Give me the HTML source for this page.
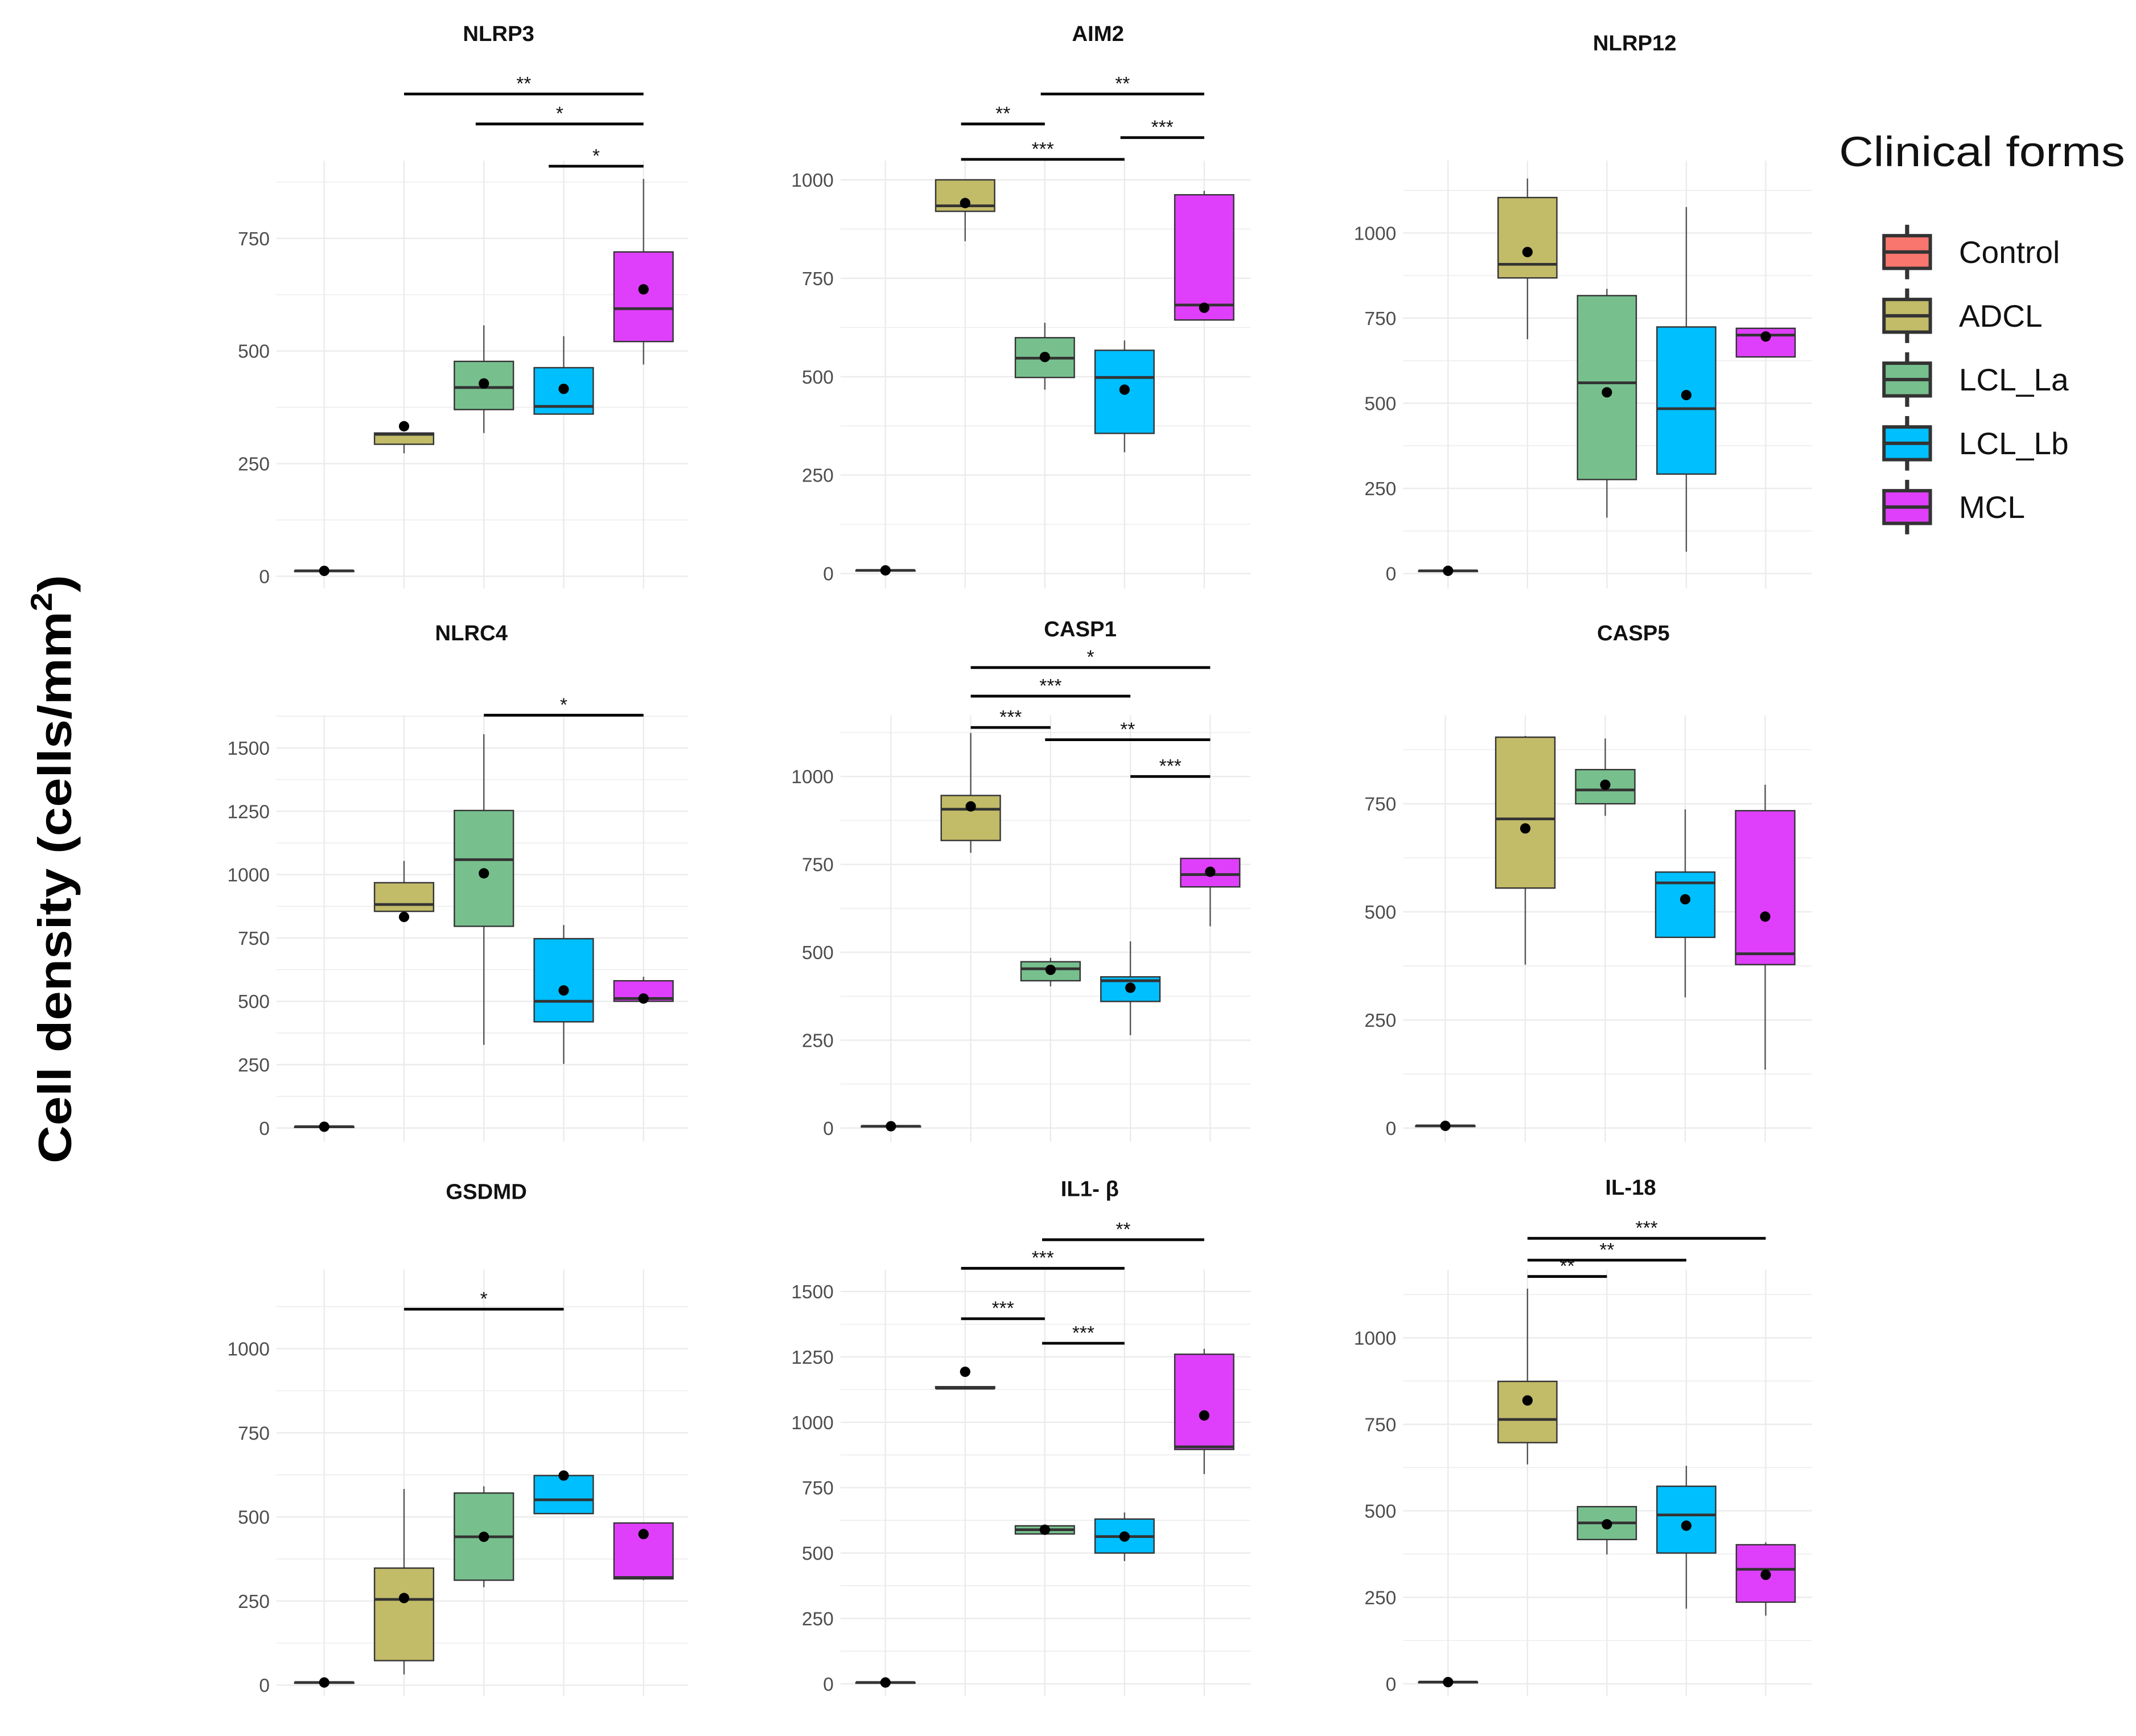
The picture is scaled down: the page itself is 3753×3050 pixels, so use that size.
<!DOCTYPE html>
<html><head><meta charset="utf-8"><style>
html,body{margin:0;padding:0;background:#fff;}
svg{display:block;font-family:"Liberation Sans",sans-serif;}
</style></head><body>
<svg id="chart" width="3753" height="3050" viewBox="0 0 1568 1274.3" xmlns="http://www.w3.org/2000/svg">
<rect x="0" y="0" width="1568" height="1274.3" fill="#fff"/>
<text transform="translate(52,638) rotate(-90)" text-anchor="middle" font-size="34" font-weight="bold" textLength="432" lengthAdjust="spacingAndGlyphs">Cell density (cells/mm<tspan font-size="22" dy="-14">2</tspan><tspan dy="14">)</tspan></text>
<g id="legend">
<text x="1350" y="122" font-size="31" fill="#111" textLength="210" lengthAdjust="spacingAndGlyphs">Clinical forms</text>
</g>
</svg>
<script>
const groups = ["Control","ADCL","LCL_La","LCL_Lb","MCL"];
const colors = ["#F8766D","#C2BB68","#77C08E","#00BFFF","#DF3FFB"];
const panelTitles = ["NLRP3","AIM2","NLRP12","NLRC4","CASP1","CASP5","GSDMD","IL1- β","IL-18"];
// per panel: lower whisker, q1, median, q3, upper whisker, mean (per group)
const nlrp3Lo=[12,273,318,360,470], nlrp3Q1=[12,293,370,360,521], nlrp3Med=[12,315,419,377,594], nlrp3Q3=[12,318,477,463,720], nlrp3Hi=[12,318,557,533,882], nlrp3Mean=[12,333,428,416,637];
const aim2Lo=[8,844,467,308,644], aim2Q1=[8,920,498,356,644], aim2Med=[8,934,547,498,682], aim2Q3=[8,1000,599,567,962], aim2Hi=[8,1000,637,592,972], aim2Mean=[8,941,550,467,675];
const nlrp12Lo=[8,688,164,64,636], nlrp12Q1=[8,868,276,292,636], nlrp12Med=[8,908,560,484,700], nlrp12Q3=[8,1104,816,724,720], nlrp12Hi=[8,1160,836,1076,720], nlrp12Mean=[8,944,532,524,696];
const nlrc4Lo=[5,855,328,253,500], nlrc4Q1=[5,855,796,419,500], nlrc4Med=[5,882,1059,500,511], nlrc4Q3=[5,968,1253,747,581], nlrc4Hi=[5,1054,1554,801,597], nlrc4Mean=[5,833,1005,543,511];
const casp1Lo=[5,783,403,264,574], casp1Q1=[5,818,419,360,686], casp1Med=[5,907,453,419,721], casp1Q3=[5,946,473,430,767], casp1Hi=[5,1124,484,531,767], casp1Mean=[5,915,450,399,729];
const casp5Lo=[5,378,722,302,135], casp5Q1=[5,555,750,441,378], casp5Med=[5,715,782,567,403], casp5Q3=[5,904,829,592,734], casp5Hi=[5,907,901,737,794], casp5Mean=[5,693,794,529,489];
const gsdmdLo=[8,32,291,510,312], gsdmdQ1=[8,73,312,510,316], gsdmdMed=[8,255,441,551,320], gsdmdQ3=[8,348,571,623,482], gsdmdHi=[8,583,591,623,482], gsdmdMean=[8,259,441,623,449];
const il1bLo=[5,1130,573,469,802], il1bQ1=[5,1130,573,500,896], il1bMed=[5,1130,589,563,906], il1bQ3=[5,1136,604,630,1260], il1bHi=[5,1136,604,655,1281], il1bMean=[5,1193,589,563,1026];
const il18Lo=[5,634,374,217,197], il18Q1=[5,697,417,378,236], il18Med=[5,764,465,488,331], il18Q3=[5,874,512,571,402], il18Hi=[5,1142,512,630,409], il18Mean=[5,819,461,457,315];
const panelData=[
 [nlrp3Lo,nlrp3Q1,nlrp3Med,nlrp3Q3,nlrp3Hi,nlrp3Mean],
 [aim2Lo,aim2Q1,aim2Med,aim2Q3,aim2Hi,aim2Mean],
 [nlrp12Lo,nlrp12Q1,nlrp12Med,nlrp12Q3,nlrp12Hi,nlrp12Mean],
 [nlrc4Lo,nlrc4Q1,nlrc4Med,nlrc4Q3,nlrc4Hi,nlrc4Mean],
 [casp1Lo,casp1Q1,casp1Med,casp1Q3,casp1Hi,casp1Mean],
 [casp5Lo,casp5Q1,casp5Med,casp5Q3,casp5Hi,casp5Mean],
 [gsdmdLo,gsdmdQ1,gsdmdMed,gsdmdQ3,gsdmdHi,gsdmdMean],
 [il1bLo,il1bQ1,il1bMed,il1bQ3,il1bHi,il1bMean],
 [il18Lo,il18Q1,il18Med,il18Q3,il18Hi,il18Mean]];
const tickMax=[750,1000,1000,1500,1000,750,1000,1500,1000];
const tickStep=[250,250,250,250,250,250,250,250,250];
// significance brackets: [fromGroup, toGroup, label]
const sigFrom=[[1,2,3],[1,1,2,3],[],[2],[1,1,1,2,3],[],[1],[2,1,1,2],[1,1,1]];
const sigTo=[[4,4,4],[2,3,4,4],[],[4],[4,3,2,4,4],[],[3],[4,3,2,3],[4,3,2]];
const sigLabel=[["**","*","*"],["**","***","**","***"],[],["*"],["*","***","***","**","***"],[],["*"],["**","***","***","***"],["***","**","**"]];
// layout (pixel geometry, not data)
const L=[
 {x0:203,x1:505,c0:238,dx:58.6,top:118,bot:432,zero:423,maxPx:175,tx:366,ty:30,sy:[69,91,122],sx:[0,-6,-11]},
 {x0:617,x1:918,c0:650,dx:58.5,top:118,bot:432,zero:421,maxPx:132,tx:806,ty:30,sy:[91,117,69,101],sx:[-3,-3,-3,-3]},
 {x0:1030,x1:1330,c0:1063,dx:58.3,top:118,bot:432,zero:421,maxPx:171,tx:1200,ty:37,sy:[],sx:[]},
 {x0:203,x1:505,c0:238,dx:58.6,top:525,bot:838,zero:828,maxPx:549,tx:346,ty:470,sy:[525],sx:[0]},
 {x0:617,x1:918,c0:654,dx:58.6,top:525,bot:838,zero:828,maxPx:570,tx:793,ty:467,sy:[490,511,534,543,570],sx:[0,0,0,-4,0]},
 {x0:1030,x1:1330,c0:1061,dx:58.7,top:525,bot:838,zero:828,maxPx:590,tx:1199,ty:470,sy:[],sx:[]},
 {x0:203,x1:505,c0:238,dx:58.6,top:932,bot:1245,zero:1237,maxPx:990,tx:357,ty:880,sy:[961],sx:[0]},
 {x0:617,x1:918,c0:650,dx:58.5,top:932,bot:1245,zero:1236,maxPx:948,tx:800,ty:878,sy:[910,931,968,986],sx:[-2,-3,-3,-2]},
 {x0:1030,x1:1330,c0:1063,dx:58.3,top:932,bot:1245,zero:1236,maxPx:982,tx:1197,ty:877,sy:[909,925,937],sx:[0,0,0]}];
const NS="http://www.w3.org/2000/svg";
const svg=document.getElementById('chart');
function mk(tag,attrs,parent){const e=document.createElementNS(NS,tag);for(const k in attrs)e.setAttribute(k,attrs[k]);(parent||svg).appendChild(e);return e;}
panelData.forEach((d,p)=>{
 const l=L[p];
 const yS=v=>l.zero-(v/tickMax[p])*(l.zero-l.maxPx);
 const xS=i=>l.c0+i*l.dx;
 const g=mk('g',{});
 
 
 const t=mk('text',{x:l.tx,y:l.ty,'text-anchor':'middle','font-size':16,'font-weight':'bold',fill:'#111'},g);
 t.textContent=panelTitles[p];
 
 
 for(let v=0;v<=tickMax[p]+tickStep[p]*0.6;v+=tickStep[p]/2){
  const y=yS(v); if(y<l.top)break;
  const gl=mk('line',{x1:l.x0,x2:l.x1,y1:y,y2:y,stroke:'#ebebeb','stroke-width':v%tickStep[p]===0?1:0.6},g);
  
  
 }
 for(let i=0;i<5;i++){
  const vl=mk('line',{x1:xS(i),x2:xS(i),y1:l.top,y2:l.bot,stroke:'#ebebeb','stroke-width':1},g);
  
  
 }
 for(let v=0;v<=tickMax[p];v+=tickStep[p]){
  const tl=mk('text',{x:l.x0-5,y:yS(v)+5,'text-anchor':'end','font-size':14,fill:'#4d4d4d'},g);
  tl.textContent=v;
  
  
 }
 const bw=l.dx*0.74;
 const [lo,q1,md,q3,hi,mn]=d;
 for(let i=0;i<5;i++){
  const x=xS(i);
  const bg=mk('g',{},g);
  
  
  mk('line',{x1:x,x2:x,y1:yS(hi[i]),y2:yS(q3[i]),stroke:'#555','stroke-width':1},bg);
  mk('line',{x1:x,x2:x,y1:yS(q1[i]),y2:yS(lo[i]),stroke:'#555','stroke-width':1},bg);
  const h=Math.max(yS(q1[i])-yS(q3[i]),0.5);
  mk('rect',{x:x-bw/2,y:yS(q3[i]),width:bw,height:h,fill:colors[i],stroke:'#333','stroke-width':1},bg);
  mk('line',{x1:x-bw/2,x2:x+bw/2,y1:yS(md[i]),y2:yS(md[i]),stroke:'#333','stroke-width':2},bg);
  const c=mk('circle',{cx:x,cy:yS(mn[i]),r:3.8,fill:'#000'},bg);
  
  
 }
 sigFrom[p].forEach((a,k)=>{
  const b=sigTo[p][k]; const y=l.sy[k];
  const x1=xS(a)+(l.sx[k]||0), x2=xS(b);
  const sl=mk('line',{x1:x1,x2:x2,y1:y,y2:y,stroke:'#000','stroke-width':2},g);
  
  
  const st=mk('text',{x:(x1+x2)/2,y:y-3,'text-anchor':'middle','font-size':14,fill:'#111'},g);
  st.textContent=sigLabel[p][k];
  
  
 });
});
const lg=document.getElementById('legend');
groups.forEach((gname,i)=>{
 const cy=185+i*46.8;
 const e=mk('g',{},lg);
 
 
 mk('line',{x1:1400,x2:1400,y1:cy-20,y2:cy+20,stroke:'#333','stroke-width':3},e);
 mk('rect',{x:1383,y:cy-12,width:34,height:24,fill:colors[i],stroke:'#333','stroke-width':2.5},e);
 mk('line',{x1:1383,x2:1417,y1:cy,y2:cy,stroke:'#333','stroke-width':2.5},e);
 const tx=mk('text',{x:1438,y:cy+8,'font-size':23,fill:'#111'},e);
 tx.textContent=gname;
});
</script>
</body></html>
